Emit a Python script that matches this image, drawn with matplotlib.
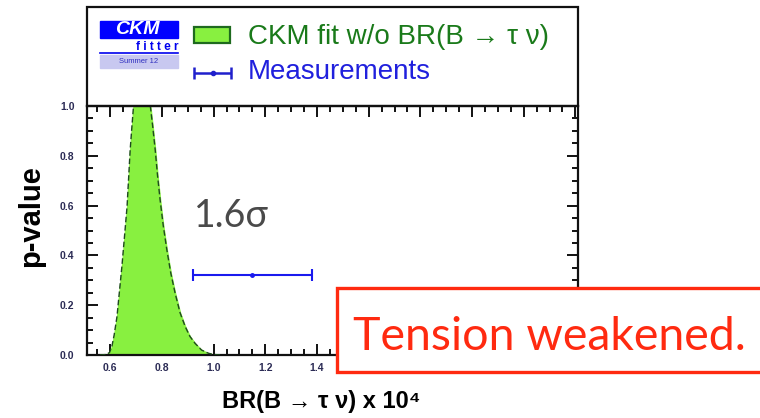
import matplotlib
matplotlib.use("Agg")
from matplotlib import pyplot as plt
from matplotlib.patches import Rectangle
from matplotlib.ticker import MultipleLocator

# CKM fit p-value scan (w/o BR(B -> tau nu))
fit_br = [0.56, 0.585, 0.597, 0.606, 0.615, 0.626, 0.635, 0.645, 0.655, 0.665,
          0.677, 0.684, 0.690, 0.755, 0.764, 0.774, 0.783, 0.793, 0.805, 0.819,
          0.834, 0.851, 0.870, 0.890, 0.908, 0.928, 0.953, 0.980, 1.00, 1.03]
fit_p = [0.0, 0.002, 0.01, 0.033, 0.08, 0.154, 0.25, 0.355, 0.475, 0.596,
         0.823, 0.92, 1.0, 1.0, 0.92, 0.823, 0.72, 0.622, 0.52, 0.422,
         0.33, 0.248, 0.17, 0.114, 0.075, 0.047, 0.02, 0.007, 0.002, 0.0]

# measurement
meas_br = [1.15]
meas_err = [0.23]
meas_y = [0.32]

x_ticks = [0.6, 0.8, 1.0, 1.2, 1.4, 1.6, 1.8, 2.0, 2.2, 2.4]
y_ticks = [0.0, 0.2, 0.4, 0.6, 0.8, 1.0]

W, H = 760, 418
fig = plt.figure(figsize=(W / 100, H / 100), dpi=100)

def px(x0, y0, x1, y1):
    return [x0 / W, 1 - y1 / H, (x1 - x0) / W, (y1 - y0) / H]

ink = "#2b2b55"
root_font = ["Liberation Sans", "DejaVu Sans"]
slide_font = ["Lato", "DejaVu Sans"]

ax = fig.add_axes(px(87, 106, 578, 355))
ax.fill_between(fit_br, fit_p, color="#88f040", zorder=2)
ax.plot(fit_br, fit_p, color="#1e4a1e", lw=1.0, ls=(0, (4, 2)), zorder=3)
ax.errorbar(meas_br, meas_y, xerr=meas_err, fmt="o", ms=2.5, color="#1a1aee",
            lw=1.5, capsize=4, capthick=1.5, zorder=4)

ax.set_xlim(0.51, 2.41)
ax.set_ylim(0, 1.0)
ax.set_xticks(x_ticks)
ax.set_yticks(y_ticks)
ax.set_xticklabels(["%.1f" % v for v in x_ticks])
ax.set_yticklabels(["%.1f" % v for v in y_ticks])
ax.xaxis.set_minor_locator(MultipleLocator(0.05))
ax.yaxis.set_minor_locator(MultipleLocator(0.05))
ax.tick_params(which="both", direction="in", top=True, right=True,
               width=1.4, colors="#111111", labelcolor=ink, labelsize=7.5)
ax.tick_params(which="major", length=8)
ax.tick_params(axis="y", which="major", pad=9)
ax.tick_params(axis="x", which="major", pad=6)
ax.tick_params(which="minor", length=4)
for lab in ax.get_xticklabels() + ax.get_yticklabels():
    lab.set_fontweight("bold")
    lab.set_family(root_font)
for s in ax.spines.values():
    s.set_linewidth(1.6)
    s.set_color("#111111")

ax.set_ylabel("p-value", fontsize=21, fontweight="bold", family=root_font)
ax.yaxis.set_label_coords(-0.086, 0.558)
ax.set_xlabel("BR(B \u2192 \u03c4 \u03bd) x 10\u2074", fontsize=17,
              fontweight="bold", family=root_font)
ax.xaxis.set_label_coords(0.478, -0.14)

# overlay in pixel coordinates for legend panel and slide annotations
ov = fig.add_axes([0, 0, 1, 1])
ov.set_xlim(0, W)
ov.set_ylim(H, 0)
ov.axis("off")

ov.add_patch(Rectangle((87, 7), 491, 99, fill=False, lw=1.6, ec="#111111"))

# CKMfitter logo
ov.add_patch(Rectangle((100, 21), 78, 17, color="#0000ff"))
ov.text(137, 29.5, "CKM", color="white", fontsize=14, fontweight="bold",
        style="italic", family=root_font, ha="center", va="center")
ov.text(178, 47, "f i t t e r", color="#0000ee", fontsize=8.5, fontweight="bold",
        family=root_font, ha="right", va="center")
ov.plot([100, 178], [53, 53], color="#0000ee", lw=1.2)
ov.add_patch(Rectangle((100, 55), 78, 13, color="#c8c8f0"))
ov.text(139, 61.5, "Summer 12", color="#3030c0", fontsize=5.5,
        family=root_font, ha="center", va="center")

# legend entries
ov.add_patch(Rectangle((194, 27), 36, 16, fc="#88f040", ec="#1e6a1e", lw=1.6))
ov.text(248, 37, "CKM fit w/o BR(B \u2192 \u03c4 \u03bd)", color="#1a7a1a",
        fontsize=20, family=root_font, va="center")
ov.errorbar([212.5], [73], xerr=[18.5], fmt="o", ms=3, color="#2020cc",
            lw=1.8, capsize=4, capthick=1.8)
ov.text(248, 72, "Measurements", color="#2020dd", fontsize=20,
        family=root_font, va="center")

ov.text(194, 227, "1.6\u03c3", color="#4a4a4a", fontsize=27, family=slide_font,
        va="baseline")

ov.add_patch(Rectangle((337, 288), 440, 84, fc="white", ec="#ff2a10", lw=2.4,
                       zorder=5))
ov.text(353, 350, "Tension weakened.", color="#ff2a10", fontsize=33.5,
        family=slide_font, va="baseline", zorder=6)

fig.savefig("out.png", dpi=100)
